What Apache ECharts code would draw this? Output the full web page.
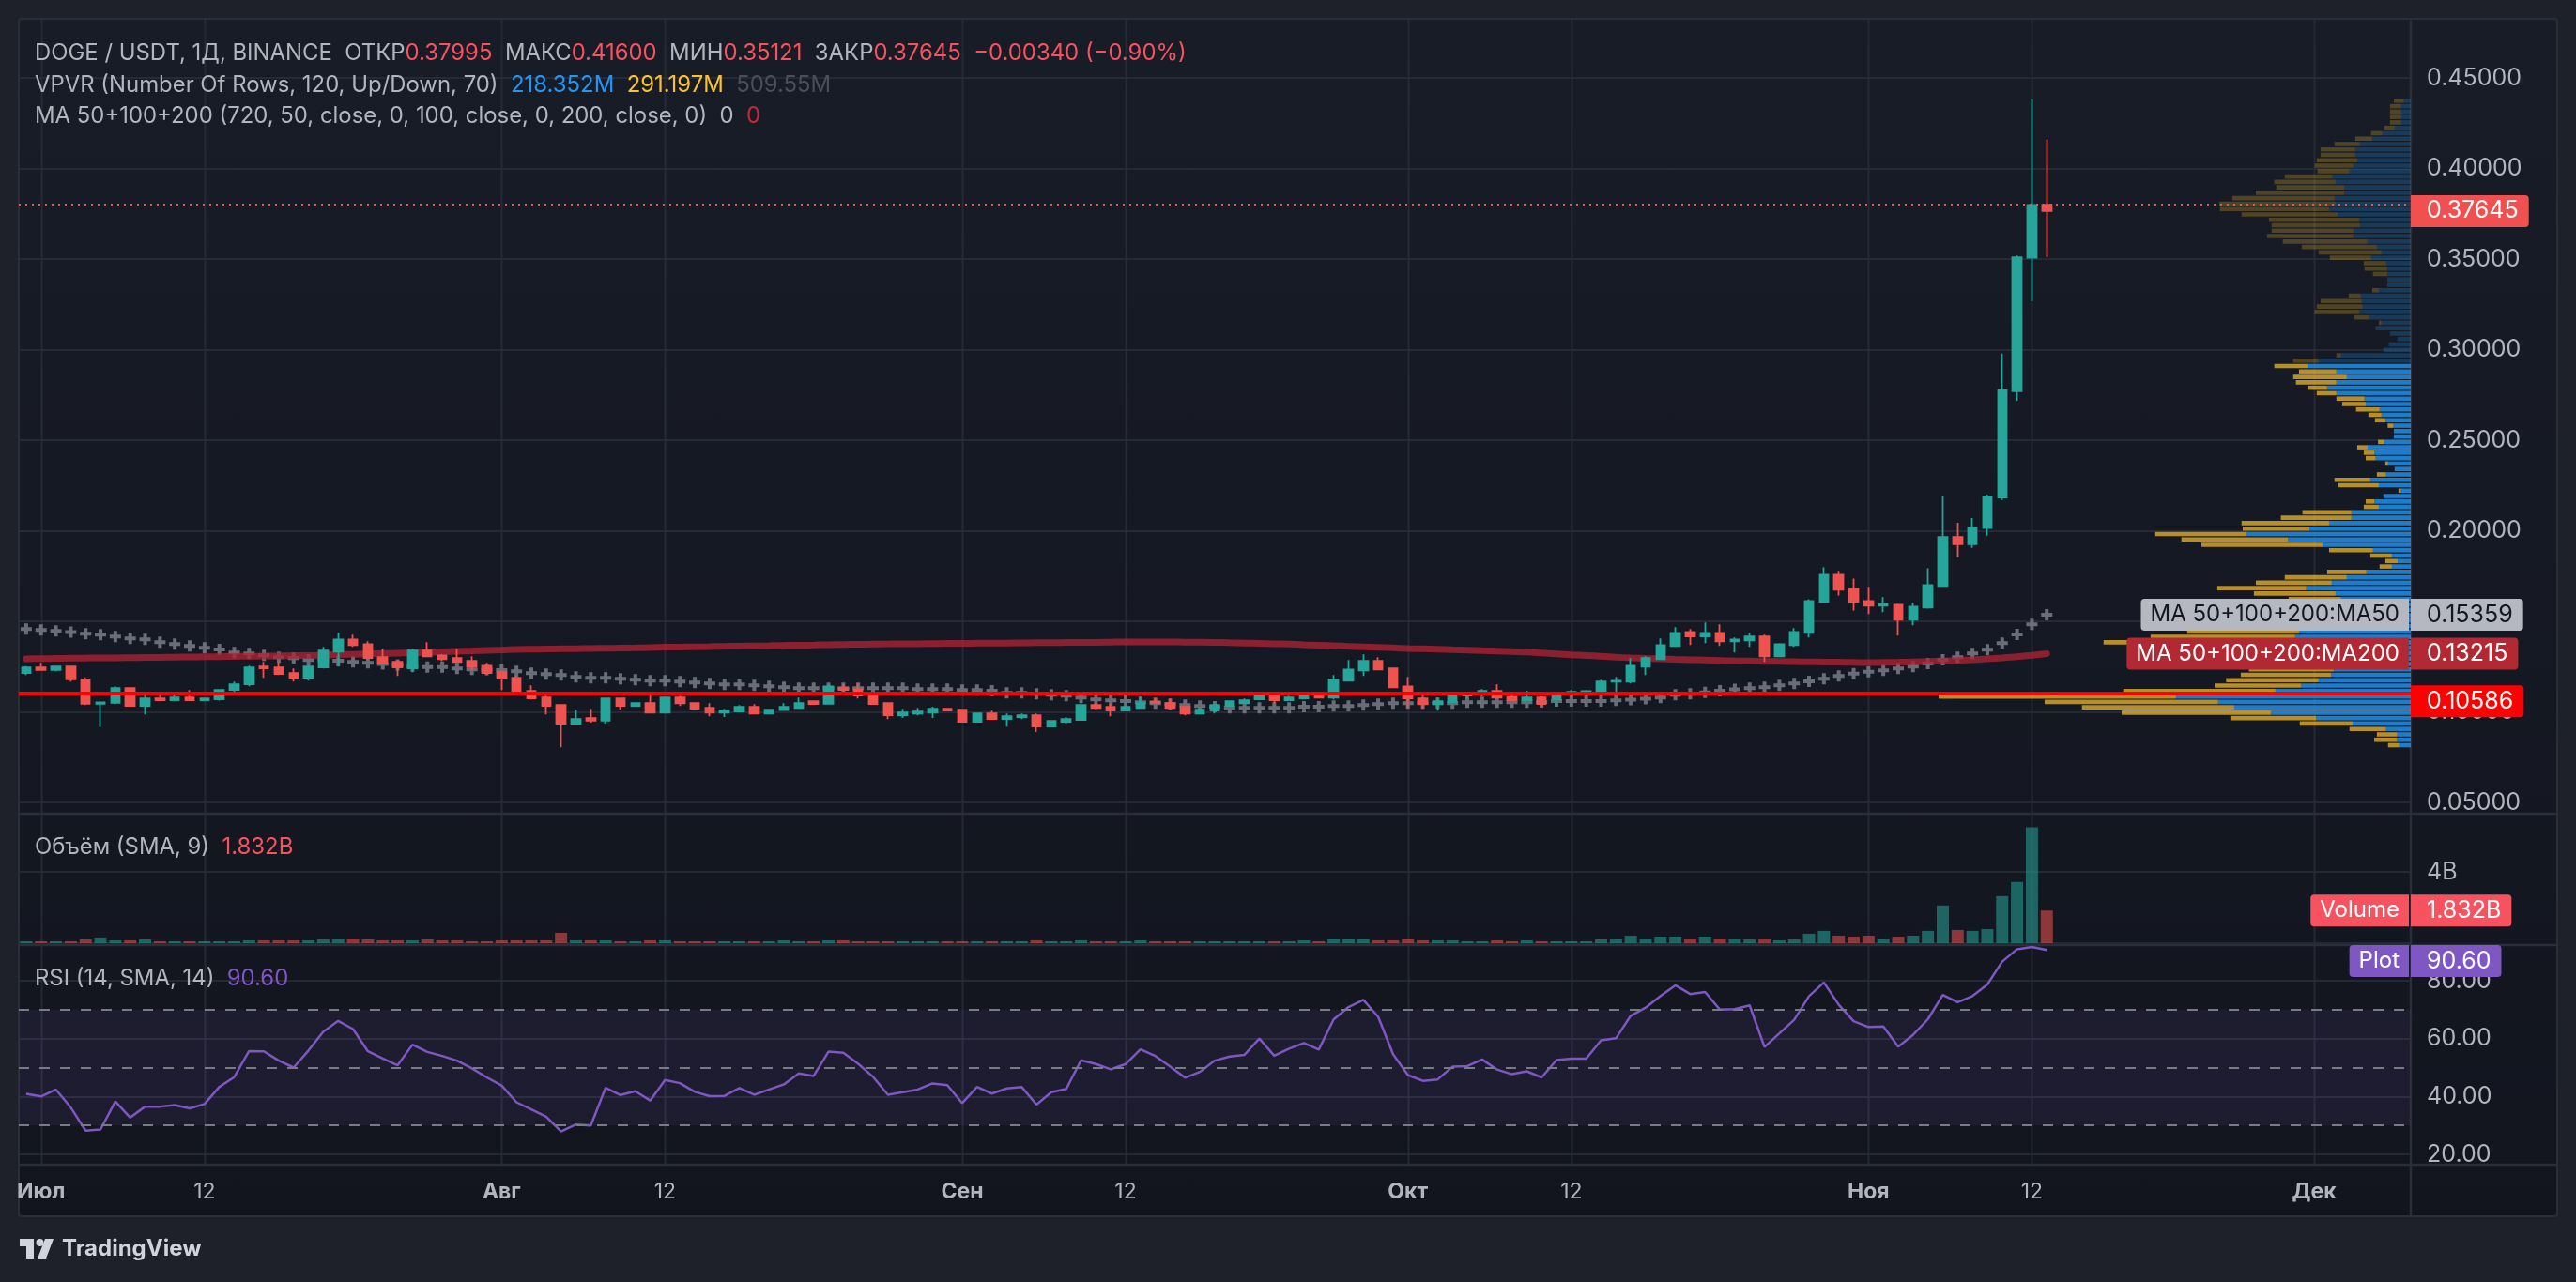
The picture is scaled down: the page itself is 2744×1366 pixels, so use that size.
<!DOCTYPE html>
<html><head><meta charset="utf-8">
<script src="https://cdn.jsdelivr.net/npm/echarts@6/dist/echarts.min.js"></script>
<style>
html,body{margin:0;padding:0;background:#1e212a;width:2744px;height:1366px;overflow:hidden}
#frame{position:absolute;left:19px;top:19px;width:2706px;height:1278px;background:linear-gradient(#181c27,#12151e);border:2px solid #2a2e39;box-sizing:border-box;border-radius:4px}
#chart{position:absolute;left:0;top:0;width:2744px;height:1366px}
</style></head><body><div id="frame"></div><div id="chart"></div>
<script>
// ---------- categories (daily, 2024-06-30 .. 2024-12-07) ----------
const startDay = '2024-06-30';
const dayCount = 161;
const dates = [];
for (let i = 0; i < dayCount; i++) {
  const d = new Date(Date.parse(startDay + 'T00:00:00Z') + i * 86400000);
  dates.push(d.toISOString().slice(0, 10));
}
const tickLabels = {'2024-07-01':'Июл','2024-07-12':'12','2024-08-01':'Авг','2024-08-12':'12','2024-09-01':'Сен','2024-09-12':'12','2024-10-01':'Окт','2024-10-12':'12','2024-11-01':'Ноя','2024-11-12':'12','2024-12-01':'Дек'};
const monthTicks = ['2024-07-01','2024-08-01','2024-09-01','2024-10-01','2024-11-01','2024-12-01'];

// ---------- OHLC (2024-06-30 .. 2024-11-13) ----------
const opens = [.1214,.1245,.1231,.1250,.1179,.1045,.1050,.1131,.1033,.1074,
.1064,.1079,.1064,.1070,.1121,.1152,.1250,.1245,.1214,.1188,
.1245,.1333,.1400,.1374,.1302,.1276,.1240,.1338,.1312,.1297,
.1281,.1255,.1219,.1188,.1116,.1079,.1038,.0935,.0966,.0952,
.1074,.1033,.1048,.0996,.1079,.1048,.1022,.0996,.1002,.1028,
.0991,.1010,.1022,.1059,.1045,.1131,.1125,.1095,.1048,.0981,
.0991,.0996,.1017,.1012,.0945,.0991,.0960,.0971,.0981,.0919,
.0945,.0955,.1038,.1028,.1007,.1022,.1058,.1048,.1028,.0991,
.1007,.1033,.1048,.1069,.1100,.1064,.1074,.1095,.1079,.1172,
.1229,.1281,.1240,.1141,.1074,.1043,.1053,.1090,.1095,.1116,
.1084,.1064,.1079,.1069,.1100,.1105,.1105,.1167,.1167,.1250,
.1291,.1364,.1441,.1416,.1436,.1390,.1395,.1416,.1307,.1369,
.1436,.1607,.1757,.1679,.1612,.1586,.1591,.1509,.1576,.1695,
.1966,.1926,.2015,.2184,.2770,.3507,.37995];
const closes = [.1245,.1231,.1250,.1179,.1045,.1052,.1131,.1033,.1074,.1064,
.1079,.1064,.1074,.1121,.1152,.1245,.1240,.1209,.1188,.1250,
.1338,.1400,.1369,.1297,.1271,.1245,.1338,.1307,.1291,.1276,
.1250,.1214,.1183,.1110,.1074,.1033,.0935,.0960,.0952,.1074,
.1033,.1048,.0996,.1079,.1048,.1017,.0996,.1007,.1028,.0991,
.1012,.1028,.1048,.1043,.1141,.1121,.1090,.1043,.0981,.0996,
.1002,.1017,.1007,.0945,.0991,.0960,.0976,.0981,.0919,.0950,
.0960,.1038,.1022,.1007,.1028,.1048,.1050,.1022,.0991,.1012,
.1038,.1059,.1064,.1100,.1064,.1079,.1095,.1079,.1178,.1234,
.1281,.1234,.1136,.1074,.1043,.1059,.1090,.1100,.1116,.1079,
.1064,.1079,.1043,.1105,.1110,.1115,.1167,.1172,.1255,.1297,
.1369,.1436,.1416,.1436,.1390,.1400,.1416,.1307,.1374,.1441,
.1612,.1757,.1674,.1607,.1586,.1597,.1509,.1581,.1700,.1966,
.1926,.2018,.2189,.2775,.3510,.37985,.37645];
const lows = [.1203,.1228,.1224,.1167,.1038,.0916,.1043,.1030,.0986,.1060,
.1060,.1060,.1060,.1062,.1110,.1141,.1188,.1203,.1167,.1172,
.1240,.1250,.1359,.1286,.1266,.1198,.1219,.1302,.1281,.1271,
.1229,.1203,.1121,.1100,.1069,.0986,.0805,.0930,.0940,.0935,
.1012,.1028,.0993,.0993,.1033,.1012,.0976,.0971,.0998,.0988,
.0986,.1005,.1017,.1038,.1040,.1100,.1074,.1040,.0960,.0966,
.0981,.0966,.1002,.0940,.0940,.0957,.0919,.0960,.0888,.0914,
.0935,.0952,.1012,.0976,.1002,.1017,.1045,.1012,.0981,.0986,
.0991,.1028,.1043,.1064,.1048,.1059,.1069,.1074,.1069,.1167,
.1198,.1230,.1131,.1022,.1017,.1007,.1048,.1074,.1084,.1074,
.1059,.1059,.1026,.1029,.1095,.1095,.1095,.1100,.1157,.1203,
.1288,.1360,.1369,.1379,.1364,.1328,.1359,.1276,.1304,.1359,
.1410,.1602,.1643,.1560,.1540,.1550,.1421,.1478,.1570,.1690,
.1854,.1906,.1973,.2170,.2718,.3268,.35121];
const highs = [.1253,.1271,.1254,.1255,.1190,.1055,.1141,.1133,.1110,.1095,
.1105,.1121,.1079,.1126,.1167,.1255,.1276,.1276,.1240,.1260,
.1359,.1436,.1426,.1390,.1348,.1286,.1348,.1385,.1319,.1348,
.1307,.1271,.1229,.1198,.1147,.1095,.1043,.1012,.1017,.1079,
.1078,.1053,.1110,.1084,.1090,.1052,.1048,.1017,.1038,.1043,
.1017,.1048,.1079,.1062,.1152,.1152,.1157,.1100,.1053,.1017,
.1022,.1028,.1022,.1015,.0996,.1007,.0991,.0991,.0991,.0955,
.0971,.1043,.1048,.1043,.1033,.1084,.1075,.1074,.1033,.1022,
.1043,.1064,.1074,.1105,.1103,.1090,.1105,.1110,.1203,.1286,
.1317,.1302,.1245,.1193,.1095,.1079,.1105,.1105,.1126,.1152,
.1095,.1116,.1085,.1110,.1121,.1121,.1178,.1193,.1297,.1307,
.1405,.1467,.1457,.1493,.1483,.1410,.1436,.1426,.1379,.1462,
.1622,.1798,.1778,.1736,.1690,.1633,.1597,.1602,.1793,.2194,
.2044,.2070,.2200,.2978,.3520,.4384,.41600];

// ---------- volume, millions of DOGE ----------
const volumesM = [110,110,110,110,210,320,160,160,210,110,110,110,110,110,110,160,160,160,160,160,
210,260,260,210,160,160,160,210,160,160,110,110,160,160,160,160,580,160,160,160,110,110,160,160,110,
110,110,110,110,110,110,160,110,110,160,160,110,110,110,110,110,110,110,110,110,
110,110,110,160,110,110,160,110,110,110,160,110,110,110,110,110,110,110,110,110,
110,160,110,260,260,260,160,
160,260,160,160,160,110,110,160,110,160,110,110,110,110,210,260,420,260,370,370,
260,370,260,260,210,260,160,210,530,690,420,370,420,260,370,420,690,2115,740,690,
790,2640,3440,6500,1832];

// ---------- indicators ----------
const ma50 = [.1457,.1452,.1447,.1441,.1431,.1426,.1416,.1405,.1400,.1385,.1374,.1364,.1353,.1345,.1328,.1322,.1312,.1302,.1297,.1286,
.1285,.1283,.1276,.1271,.1264,.1259,.1252,.1247,.1247,.1240,.1234,.1233,.1231,.1224,
.1214,.1209,.1203,.1193,.1188,.1188,.1183,.1178,.1172,.1172,.1167,.1162,.1157,.1152,.1152,.1147,.1141,.1136,.1131,.1131,
.1131,.1131,.1131,.1131,.1131,.1131,.1126,.1126,.1126,.1121,.1121,.1116,.1105,.1105,
.1100,.1095,.1090,.1079,.1069,.1064,.1059,.1053,.1048,.1043,.1038,.1033,.1028,.1022,.1022,.1022,.1022,.1022,.1028,.1028,
.1033,.1033,.1038,.1043,.1048,.1048,.1048,.1048,.1048,.1053,.1053,.1053,.1053,.1053,
.1055,.1060,.1060,.1060,.1060,.1064,.1067,.1072,.1079,.1095,.1100,.1107,.1116,.1124,.1131,.1136,.1147,.1157,.1169,.1183,
.1198,.1211,.1221,.1229,.1240,.1250,.1267,.1288,.1302,.1322,.1343,.1379,.1428,.1483,.15359];
const ma200 = [.1293,.1294,.1295,.1296,.1297,.1298,.1298,.1299,.1300,.1301,.1302,
.1303,.1304,.1305,.1306,.1307,.1308,.1309,.1310,.1311,.1314,
.1316,.1318,.1320,.1322,.1324,.1326,.1328,
.1331,.1334,.1337,.1340,.1342,.1345,
.1346,.1347,.1348,.1349,.1350,.1351,.1352,.1353,.1355,.1357,
.1358,.1359,.1360,.1362,.1363,.1364,.1365,.1367,.1368,.1369,.1371,
.1372,.1373,.1374,.1375,.1376,.1376,.1377,.1378,.1378,.1379,.1380,.1380,.1381,
.1382,.1382,.1383,.1384,.1384,.1385,.1386,
.1386,.1386,.1386,.1385,.1385,.1384,.1382,
.1380,.1378,.1376,.1374,.1371,.1368,
.1365,.1362,.1359,.1356,.1353,.1350,
.1348,.1346,.1343,.1341,.1338,.1336,.1333,.1330,
.1325,.1320,.1315,.1311,.1307,.1302,.1298,
.1295,.1293,.1290,.1288,.1286,.1284,.1282,.1281,.1279,
.1278,.1277,.1276,.1275,.1274,.1273,.1272,
.1273,.1274,.1276,.1278,
.1281,.1284,.1288,.1293,
.1298,.1304,.1312,.13215];
const rsi = [40.9,40.0,42.4,36.2,28.2,28.6,38.3,32.7,36.5,36.5,37.0,35.9,37.4,43.3,46.7,55.7,55.6,52.4,50.0,55.9,
62.4,66.1,63.3,55.6,53.1,50.8,57.9,55.4,54.0,52.4,49.7,46.6,43.8,38.0,35.5,33.0,27.9,30.3,30.0,43.0,
40.5,41.8,38.6,45.7,44.6,41.6,40.1,40.2,42.9,40.6,42.4,44.2,48.0,47.1,55.5,55.1,51.3,46.8,40.6,41.5,
42.4,44.5,43.9,37.7,43.3,41.0,42.8,43.3,37.2,41.5,42.6,52.5,51.2,49.4,51.2,56.3,54.0,50.3,46.5,48.5,
52.4,53.8,54.4,60.0,54.1,56.5,58.5,56.2,66.6,70.9,73.4,67.5,54.6,47.4,45.4,45.9,50.3,50.5,52.8,49.3,
47.7,48.7,46.6,52.6,53.1,53.1,59.4,60.1,67.9,70.7,74.7,78.4,75.4,76.1,70.0,70.2,71.5,57.1,61.8,66.5,
74.7,79.4,71.7,66.0,64.0,64.2,57.2,61.3,66.7,75.1,72.6,74.7,78.7,86.6,90.9,91.7,90.6];

// ---------- VPVR: 120 rows, up / down volume (relative units) ----------
const vpRowLow = 0.0816;     // centre price of the lowest row
const vpRowStep = 0.00299;   // row height in price
const vpValueAreaTop = 70;   // rows above this are outside the 70% value area
const vpUp = [30,35,35,64,151,246,363,458,500,609,351,285,239,207,200,190,180,200,230,360,
300,290,200,180,160,150,170,181,195,271,205,166,115,49,34,49,98,229,319,427,
263,212,154,154,83,95,71,25,83,105,64,42,59,91,95,112,69,44,44,45,
66,76,81,117,120,193,217,193,166,193,268,239,181,71,57,35,54,91,76,108,
134,125,127,130,83,61,61,61,61,64,103,76,88,113,149,149,132,134,190,212,
195,198,173,173,195,203,159,149,139,144,144,132,100,74,42,25,25,25,25,18];
const vpDown = [29,60,53,95,137,222,387,395,450,616,395,224,240,234,220,210,200,220,270,437,
375,290,200,180,170,140,130,136,212,231,197,161,102,32,32,56,114,314,276,236,
173,227,183,127,39,22,0,7,105,93,24,0,7,26,27,27,16,0,0,15,
27,34,61,61,73,51,51,105,139,97,86,66,12,0,0,0,0,0,7,39,
115,119,107,31,17,0,0,37,59,58,107,163,195,219,224,212,229,234,249,283,
302,265,229,176,159,124,83,100,105,90,90,66,44,29,27,29,29,29,29,26];
const redLevel = 0.10586;
const vpvrTotals = ['218.352M','291.197M','509.55M'];

// ---------- styles ----------
const FONT = 'Inter, Roboto, sans-serif';
const TXT = '#b2b5be';
const GRIDC = 'rgba(42,46,57,0.8)';
const SEP = '#2a2e39';
const UP = '#26a69a', DN = '#ef5350';
const AXIS_X = 2568;
const RIGHT = 2744 - AXIS_X;
const LEG = '23.9px ' + FONT;
const SCALE_FS = 25;
const last = closes.length - 1;

const vpMax = Math.max(...vpUp.map((u, i) => u + vpDown[i]));
const PLUS = 'path://M4 0h4v4h4v4h-4v4h-4v-4h-4v-4h4z';

const hiddenCat = (gi) => ({type:'category', gridIndex:gi, data:dates, boundaryGap:true,
  axisLine:{show:false}, axisTick:{show:false}, axisLabel:{show:false}, splitLine:{show:false}});

const chart = echarts.init(document.getElementById('chart'), null, {renderer:'canvas'});
const option = {
  animation:false,
  backgroundColor:'transparent',
  grid:[
    {left:20, right:RIGHT, top:83, height:772},
    {left:20, right:RIGHT, top:929, height:76},
    {left:20, right:RIGHT, top:1045, height:185},
    {right:RIGHT, width:503, top:83, height:772}
  ],
  xAxis:[
    hiddenCat(0), hiddenCat(1),
    {type:'category', gridIndex:2, data:dates, boundaryGap:true,
      axisLine:{show:false}, axisTick:{show:false}, splitLine:{show:false},
      axisLabel:{show:true, margin:29, color:TXT, fontSize:23, fontFamily:FONT,
        interval:(i, v) => !!tickLabels[v],
        formatter:(v) => monthTicks.indexOf(v) >= 0 ? '{m|' + tickLabels[v] + '}' : (tickLabels[v] || ''),
        rich:{m:{fontWeight:'bold', fontSize:23, fontFamily:FONT, color:TXT}}}},
    {type:'value', gridIndex:3, inverse:true, min:0, max:vpMax, show:false}
  ],
  yAxis:[
    {type:'value', gridIndex:0, position:'right', min:0.05, max:0.45, interval:0.05,
      axisLine:{show:false}, axisTick:{show:false},
      axisLabel:{margin:17, color:TXT, fontSize:SCALE_FS, fontFamily:FONT, formatter:(v) => v.toFixed(5)},
      splitLine:{lineStyle:{color:GRIDC, width:2}}},
    {type:'value', gridIndex:1, position:'right', min:0, max:4e9, interval:4e9,
      axisLine:{show:false}, axisTick:{show:false},
      axisLabel:{margin:17, color:TXT, fontSize:SCALE_FS, fontFamily:FONT, formatter:(v) => v === 0 ? '' : (v / 1e9) + 'B'},
      splitLine:{lineStyle:{color:GRIDC, width:2}}},
    {type:'value', gridIndex:2, position:'right', min:20, max:80, interval:20,
      axisLine:{show:false}, axisTick:{show:false},
      axisLabel:{margin:17, color:TXT, fontSize:SCALE_FS, fontFamily:FONT, formatter:(v) => v.toFixed(2)},
      splitLine:{lineStyle:{color:GRIDC, width:2}}},
    {type:'value', gridIndex:3, min:0.05, max:0.45, show:false}
  ],
  series:[
    {type:'custom', name:'VPVR', xAxisIndex:3, yAxisIndex:3, z:1, silent:true,
      data: vpUp.map((u, i) => [vpRowLow + i * vpRowStep, u, vpDown[i], i > vpValueAreaTop ? 1 : 0]),
      encode:{x:1, y:0},
      renderItem:(params, api) => {
        const price = api.value(0), u = api.value(1), d = api.value(2), dim = api.value(3);
        const base = api.coord([0, price]);
        const pu = api.coord([u, price]);
        const pd = api.coord([u + d, price]);
        const h = api.size([0, vpRowStep])[1] * 0.8;
        const y = base[1] - h / 2;
        return {type:'group', children:[
          {type:'rect', shape:{x:pu[0], y:y, width:base[0] - pu[0], height:h},
            style:{fill: dim ? 'rgba(33,150,243,0.25)' : 'rgba(33,150,243,0.8)'}},
          {type:'rect', shape:{x:pd[0], y:y, width:pu[0] - pd[0], height:h},
            style:{fill: dim ? 'rgba(251,192,45,0.25)' : 'rgba(251,192,45,0.7)'}}
        ]};
      }},
    {type:'scatter', name:'MA50', xAxisIndex:0, yAxisIndex:0, z:2, silent:true,
      data:ma50, symbol:PLUS, symbolSize:12, itemStyle:{color:'#80838f'}},
    {type:'line', name:'MA200', xAxisIndex:0, yAxisIndex:0, z:3, silent:true,
      data:ma200, smooth:0.3, symbol:'none', lineStyle:{color:'rgba(178,34,52,0.76)', width:7, cap:'round'}},
    {type:'candlestick', name:'DOGE', xAxisIndex:0, yAxisIndex:0, z:4, silent:true,
      data: opens.map((o, i) => [o, closes[i], lows[i], highs[i]]),
      barWidth:10,
      itemStyle:{color:UP, color0:DN, borderColor:UP, borderColor0:DN, borderWidth:1.8},
      markLine:{silent:true, symbol:['none','none'], label:{show:false}, animation:false,
        data:[
          {yAxis:redLevel, lineStyle:{color:'#ff0000', width:4, type:'solid'}},
          {yAxis:closes[last], lineStyle:{color:'#ef5350', width:2, type:[2,5]}}
        ]}},
    {type:'bar', name:'Volume', xAxisIndex:1, yAxisIndex:1, z:2, silent:true, clip:false, barWidth:13,
      data: volumesM.map((v, i) => ({value:v * 1e6,
        itemStyle:{color: closes[i] >= opens[i] ? 'rgba(38,166,154,0.55)' : 'rgba(239,83,80,0.55)'}}))},
    {type:'line', name:'RSI', xAxisIndex:2, yAxisIndex:2, z:3, silent:true, clip:false,
      data:rsi, symbol:'none', lineStyle:{color:'#7e57c2', width:2.5},
      markArea:{silent:true, itemStyle:{color:'rgba(126,87,194,0.1)'}, data:[[{yAxis:70},{yAxis:30}]]},
      markLine:{silent:true, symbol:['none','none'], label:{show:false},
        lineStyle:{color:'#787b86', width:2, type:[11,11]},
        data:[{yAxis:70},{yAxis:50},{yAxis:30}]}}
  ]
};
chart.setOption(option);

// ---------- overlay elements positioned through the chart's own scales ----------
const px = (d) => chart.convertToPixel({xAxisIndex:0}, d);
const py = (yi, v) => chart.convertToPixel({yAxisIndex:yi}, v);
const els = [];
[867, 1007, 1241].forEach(y => els.push({type:'line', z:0, silent:true,
  shape:{x1:20, y1:y, x2:2724, y2:y}, style:{stroke:SEP, lineWidth:2.5}}));
els.push({type:'line', z:0, silent:true, shape:{x1:AXIS_X, y1:20, x2:AXIS_X, y2:1296}, style:{stroke:SEP, lineWidth:2.5}});
Object.keys(tickLabels).forEach(d => {
  const x = Math.round(px(d)) + 0.5;
  els.push({type:'line', z:0, silent:true, shape:{x1:x, y1:20, x2:x, y2:1241}, style:{stroke:GRIDC, lineWidth:2}});
});

function valueTag(text, yc, bg, fg) {
  els.push({type:'text', z:100, silent:true, x:AXIS_X, y:yc, style:{text:text, fill:fg, font:SCALE_FS + 'px ' + FONT,
    align:'left', verticalAlign:'middle', lineHeight:24, backgroundColor:bg, padding:[5,11,5,17], borderRadius:[0,4,4,0]}});
}
function nameTag(text, yc, bg, fg) {
  els.push({type:'text', z:100, silent:true, x:AXIS_X - 2, y:yc, style:{text:text, fill:fg, font:'24px ' + FONT,
    align:'right', verticalAlign:'middle', lineHeight:24, backgroundColor:bg, padding:[5,10,5,10], borderRadius:[4,0,0,4]}});
}
valueTag(closes[last].toFixed(5), py(0, closes[last]), '#f0504f', '#ffffff');
nameTag('MA 50+100+200:MA50', py(0, ma50[last]), '#b5b8c0', '#131722');
valueTag(ma50[last].toFixed(5), py(0, ma50[last]), '#b5b8c0', '#131722');
nameTag('MA 50+100+200:MA200', py(0, ma200[last]), '#b22833', '#ffffff');
valueTag(ma200[last].toFixed(5), py(0, ma200[last]), '#b22833', '#ffffff');
valueTag(redLevel.toFixed(5), py(0, redLevel), '#ff0000', '#ffffff');
const lastVol = volumesM[last] * 1e6;
nameTag('Volume', py(1, lastVol), '#f7525f', '#ffffff');
valueTag((lastVol / 1e9).toFixed(3) + 'B', py(1, lastVol), '#f7525f', '#ffffff');
const rsiY = Math.max(py(2, rsi[last]), 1007 + 17);
nameTag('Plot', rsiY, '#7e57c2', '#ffffff');
valueTag(rsi[last].toFixed(2), rsiY, '#7e57c2', '#ffffff');

const rich = {
  g:{fill:TXT, font:LEG}, r:{fill:'#f7525f', font:LEG}, b:{fill:'#2196f3', font:LEG},
  y:{fill:'#fbc02d', font:LEG}, k:{fill:'#4b4e58', font:LEG}, d:{fill:'#c8283a', font:LEG}, p:{fill:'#7e57c2', font:LEG}
};
const chg = closes[last] - closes[last - 1];
const pct = chg / closes[last - 1] * 100;
const fmtSigned = (v, n) => (v < 0 ? '\u2212' : '+') + Math.abs(v).toFixed(n);
function legend(y, text) {
  els.push({type:'text', z:100, silent:true, x:37, y:y, style:{text:text, rich:rich, verticalAlign:'middle', align:'left'}});
}
legend(57, '{g|DOGE / USDT, 1Д, BINANCE  ОТКР}{r|' + opens[last].toFixed(5) + '}{g|  МАКС}{r|' + highs[last].toFixed(5) +
  '}{g|  МИН}{r|' + lows[last].toFixed(5) + '}{g|  ЗАКР}{r|' + closes[last].toFixed(5) + '}{r|  ' + fmtSigned(chg, 5) +
  ' (' + fmtSigned(pct, 2) + '%)}');
legend(91, '{g|VPVR (Number Of Rows, 120, Up/Down, 70)  }{b|' + vpvrTotals[0] + '}{g|  }{y|' + vpvrTotals[1] + '}{g|  }{k|' + vpvrTotals[2] + '}');
legend(124, '{g|MA 50+100+200 (720, 50, close, 0, 100, close, 0, 200, close, 0)  0  }{d|0}');
legend(903, '{g|Объём (SMA, 9)  }{r|' + (lastVol / 1e9).toFixed(3) + 'B}');
legend(1043, '{g|RSI (14, SMA, 14)  }{p|' + rsi[last].toFixed(2) + '}');

els.push({type:'polygon', z:100, silent:true, shape:{points:[[21,1320],[36,1320],[36,1341],[28,1341],[28,1328],[21,1328]]}, style:{fill:'#d1d4dc'}});
els.push({type:'circle', z:100, silent:true, shape:{cx:42.5, cy:1324, r:4}, style:{fill:'#d1d4dc'}});
els.push({type:'polygon', z:100, silent:true, shape:{points:[[48,1320],[57,1320],[49,1341],[40,1341]]}, style:{fill:'#d1d4dc'}});
els.push({type:'text', z:100, silent:true, x:66, y:1331, style:{text:'TradingView', fill:'#d1d4dc', font:'bold 24px ' + FONT, verticalAlign:'middle'}});

chart.setOption({graphic:{elements:els}});
</script></body></html>
